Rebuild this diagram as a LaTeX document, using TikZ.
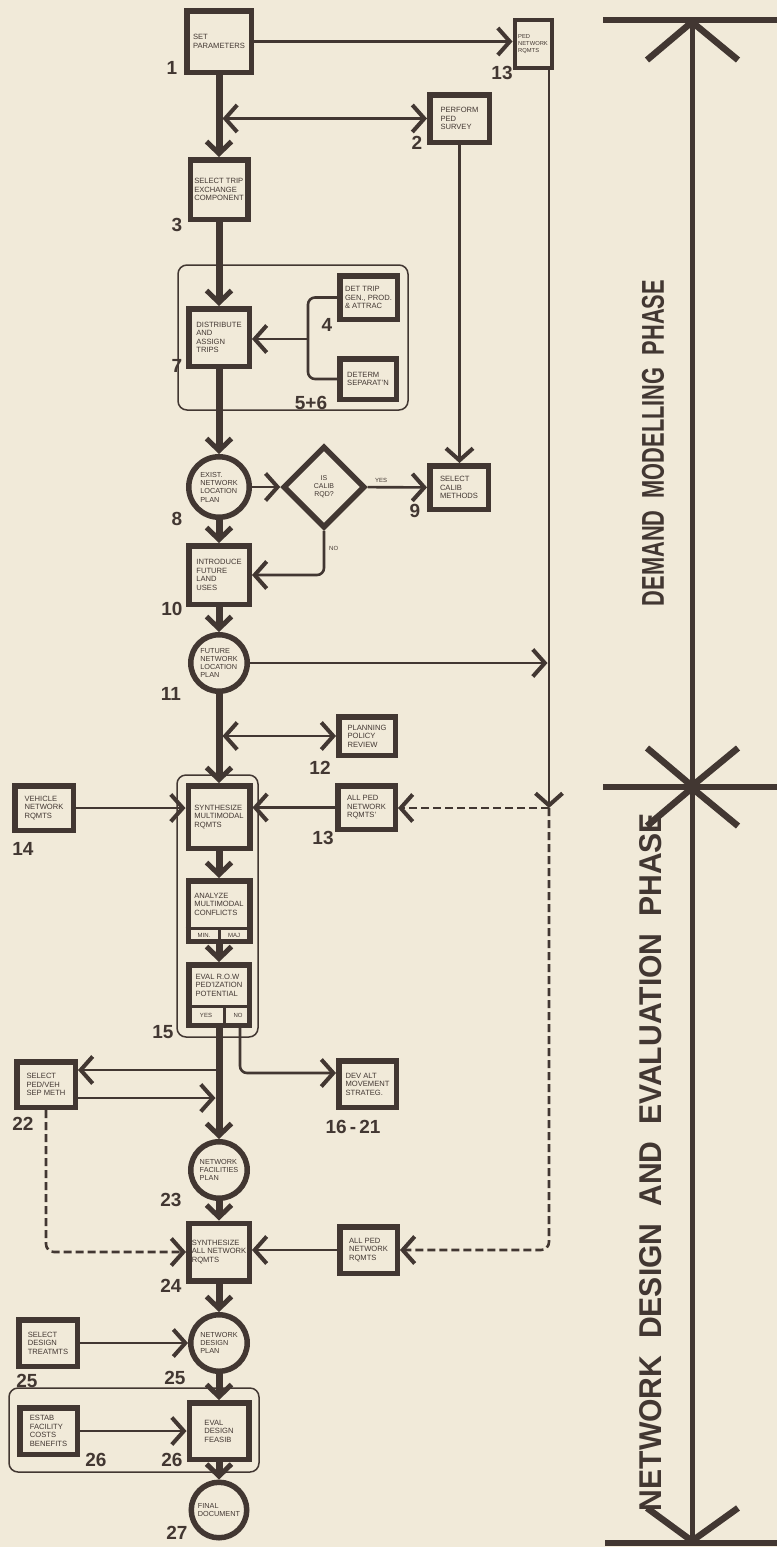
\documentclass[tikz,border=0pt]{standalone}
\usepackage{fontspec}
\setmainfont{Liberation Sans}
\usetikzlibrary{arrows.meta,shapes.geometric}
\definecolor{paper}{RGB}{241,234,217}
\definecolor{ink}{RGB}{66,55,50}
\tikzset{
  MB/.tip={Straight Barb[length=12pt,width=25pt,line width=5pt]},
  TB/.tip={Straight Barb[length=12pt,width=27pt,line width=4pt]},
  box/.style={rectangle, draw=ink, line width=5.5pt, fill=paper, inner sep=0pt, align=left, text=ink, font=\fontsize{7.6}{8.5}\selectfont},
  circ/.style={circle, draw=ink, line width=5.5pt, fill=paper, inner sep=0pt, align=left, text=ink, font=\fontsize{7.3}{8.3}\selectfont},
  txt/.style={inner sep=0pt, align=left, text=ink, font=\fontsize{7.6}{8.5}\selectfont},
  small/.style={inner sep=0pt, text=ink, font=\fontsize{6}{7}\selectfont},
  num/.style={inner sep=0pt, text=ink, font=\fontsize{19}{19}\selectfont\bfseries},
  flow/.style={draw=ink, line width=7pt, -{MB}},
  conn/.style={draw=ink, line width=2.6pt},
  dashconn/.style={draw=ink, line width=2.6pt, dash pattern=on 8pt off 4pt},
  grp/.style={draw=ink, line width=1.5pt, rounded corners=9pt},
  bar/.style={draw=ink, line width=6pt},
  phase/.style={inner sep=0pt, text=ink, rotate=90},
}
\begin{document}
\begin{tikzpicture}[x=1pt,y=-1pt]
\fill[paper] (0,0) rectangle (777,1547);
\useasboundingbox (0,0) rectangle (777,1547);

% groups
\draw[grp] (178,265) rectangle (408,410);
\draw[grp] (177,775) rectangle (258,1037);
\draw[grp] (9,1388) rectangle (259,1472);

% nodes
\node[box, minimum width=64.5pt, minimum height=61.5pt] (n1) at (219,41.5) {SET\\PARAMETERS};
\node[box, line width=4pt, minimum width=37pt, minimum height=48pt, font=\fontsize{5.8}{7}\selectfont] (n13a) at (533,44) {PED\\NETWORK\\RQMTS};
\node[box, minimum width=59.5pt, minimum height=47.5pt] (n2) at (459.5,118.5) {PERFORM\\PED\\SURVEY};
\node[box, minimum width=57.5pt, minimum height=59.5pt] (n3) at (219,189.5) {SELECT TRIP\\EXCHANGE\\COMPONENT};
\node[box, minimum width=60.5pt, minimum height=57.5pt] (n7) at (219,337.5) {DISTRIBUTE\\AND\\ASSIGN\\TRIPS};
\node[box, minimum width=57.5pt, minimum height=43.5pt] (n4) at (368.5,297.5) {DET TRIP\\GEN., PROD.\\\& ATTRAC};
\node[box, minimum width=56.5pt, minimum height=40.5pt] (n56) at (368,379) {DETERM\\SEPARAT'N};
\node[circ, minimum size=60.5pt] (n8) at (219,487) {EXIST.\\NETWORK\\LOCATION\\PLAN};
\node[diamond, draw=ink, line width=5.5pt, fill=paper, inner sep=0pt, minimum width=82pt, minimum height=82pt, align=center, text=ink, font=\fontsize{7}{8.2}\selectfont] (nd) at (324,487) {IS\\CALIB\\RQD?};
\node[box, minimum width=58.5pt, minimum height=43.5pt] (n9) at (459,487.5) {SELECT\\CALIB\\METHODS};
\node[box, minimum width=60.5pt, minimum height=58.5pt] (n10) at (219,575) {INTRODUCE\\FUTURE\\LAND\\USES};
\node[circ, minimum size=56.5pt] (n11) at (219,663) {FUTURE\\NETWORK\\LOCATION\\PLAN};
\node[box, minimum width=56.5pt, minimum height=38.5pt] (n12) at (367,736) {PLANNING\\POLICY\\REVIEW};
\node[box, minimum width=58.5pt, minimum height=44.5pt] (n14) at (44,808) {VEHICLE\\NETWORK\\RQMTS};
\node[box, minimum width=61.5pt, minimum height=62.5pt] (nsyn) at (219,817) {SYNTHESIZE\\MULTIMODAL\\RQMTS};
\node[box, minimum width=57.5pt, minimum height=43.5pt] (n13b) at (366.5,807.5) {ALL PED\\NETWORK\\RQMTS'};
\node[box, minimum width=61.5pt, minimum height=60.5pt] (nana) at (219,911) {};
\node[txt] (tana) at ([yshift=7pt]nana.center) {ANALYZE\\MULTIMODAL\\CONFLICTS};
\draw[ink, line width=3pt] ([yshift=-17pt]nana.west) -- ([yshift=-17pt]nana.east);
\draw[ink, line width=3pt] ([yshift=-17pt]nana.center) -- (nana.south);
\node[small] (tmin) at ([xshift=-15pt,yshift=-24pt]nana.center) {MIN.};
\node[small] (tmaj) at ([xshift=15pt,yshift=-24pt]nana.center) {MAJ};
\node[box, minimum width=60.5pt, minimum height=60.5pt] (neval) at (219,995) {};
\node[txt] (teval) at ([yshift=10pt]neval.center) {EVAL R.O.W\\PED'IZATION\\POTENTIAL};
\draw[ink, line width=3pt] ([yshift=-11pt]neval.west) -- ([yshift=-11pt]neval.east);
\draw[ink, line width=3pt] ([xshift=5pt,yshift=-11pt]neval.center) -- ([xshift=5pt]neval.south);
\node[small] (tyes) at ([xshift=-13pt,yshift=-20.5pt]neval.center) {YES};
\node[small] (tno) at ([xshift=19pt,yshift=-20.5pt]neval.center) {NO};
\node[box, minimum width=57.5pt, minimum height=46.5pt] (ndev) at (367.5,1084) {DEV ALT\\MOVEMENT\\STRATEG.};
\node[box, minimum width=58.5pt, minimum height=45.5pt] (n22) at (46,1084.5) {SELECT\\PED/VEH\\SEP METH};
\node[circ, minimum size=56.5pt] (n23) at (219,1170) {NETWORK\\FACILITIES\\PLAN};
\node[box, minimum width=60.5pt, minimum height=57.5pt] (nsan) at (219,1252) {SYNTHESIZE\\ALL NETWORK\\RQMTS};
\node[box, minimum width=57.5pt, minimum height=46.5pt] (nap2) at (368.5,1250) {ALL PED\\NETWORK\\RQMTS};
\node[circ, minimum size=56.5pt] (n25c) at (219,1343) {NETWORK\\DESIGN\\PLAN};
\node[box, minimum width=58.5pt, minimum height=46.5pt] (n25b) at (48,1343) {SELECT\\DESIGN\\TREATMTS};
\node[box, minimum width=57.5pt, minimum height=46.5pt] (n26a) at (48.5,1431) {ESTAB\\FACILITY\\COSTS\\BENEFITS};
\node[box, minimum width=59.5pt, minimum height=56.5pt] (n26) at (219,1431) {EVAL\\DESIGN\\FEASIB};
\node[circ, minimum size=55.5pt] (n27) at (219,1510) {FINAL\\DOCUMENT};

% connectors
\draw[flow] (n1) -- (n3);
\coordinate (j2) at (222.5,118.5);
\draw[conn, {TB}-{TB}] (j2) -- (n2);
\draw[conn, -{TB}] (n1.east) -- (n1.east -| n13a.west);
\coordinate (v) at (549,808);
\draw[conn, -{TB}] (v |- n13a.south) -- (v);
\draw[dashconn, -{TB}] (v) -- (v -| n13b.east);
\draw[dashconn, -{TB}, rounded corners=8pt] (v) |- (nap2.east);
\draw[conn, -{TB}] (n2.south) -- (n2.south |- n9.north);
\draw[flow] (n3) -- (n7);
\coordinate (k4) at (308,339);
\draw[conn, rounded corners=7pt] (n4.west) -| (k4) |- (n56.west);
\draw[conn, -{TB}] (k4) -- (k4 -| n7.east);
\draw[flow] (n7) -- (n8);
\draw[conn, -{TB}] (n8) -- (nd);
\draw[conn, -{TB}] (nd) -- (n9);
\node[small] (lyes) at (381,480) {YES};
\draw[conn, -{TB}, rounded corners=7pt] (nd.south) |- (n10.east);
\node[small, anchor=west] (lno) at (329,548) {NO};
\draw[flow] (n8) -- (n10);
\draw[flow] (n10) -- (n11);
\coordinate (v11) at (547.5,663);
\draw[conn, -{TB}] (n11) -- (v11);
\draw[flow] (n11) -- (nsyn);
\coordinate (j12) at (222.5,736);
\draw[conn, {TB}-{TB}] (j12) -- (n12);
\draw[conn, -{TB}] (n14.east) -- (n14.east -| nsyn.west);
\draw[conn, -{TB}] (n13b.west) -- (n13b.west -| nsyn.east);
\draw[flow] (nsyn) -- (nana);
\draw[flow] (nana) -- (neval);
\draw[flow] (neval) -- (n23);
\coordinate (jno) at ([xshift=21pt]neval.south);
\coordinate (jdev) at ([yshift=11pt]ndev.west);
\draw[conn, -{TB}, rounded corners=7pt] (jno) |- (jdev);
\coordinate (j22a) at (219,1070);
\draw[conn, -{TB}] (j22a) -- (j22a -| n22.east);
\coordinate (j22b) at (215.5,1098);
\draw[conn, -{TB}] (j22b -| n22.east) -- (j22b);
\draw[dashconn, -{TB}, rounded corners=8pt] (n22.south) |- (nsan.west);
\draw[flow] (n23) -- (nsan);
\draw[conn, -{TB}] (nap2) -- (nap2 -| nsan.east);
\draw[flow] (nsan) -- (n25c);
\draw[conn, -{TB}] (n25b) -- (n25c);
\draw[flow] (n25c) -- (n26);
\draw[conn, -{TB}] (n26a) -- (n26);
\draw[flow] (n26) -- (n27);

% number labels
\node[num] (l1) at (172,68) {1};
\node[num] (l13a) at (502,73) {13};
\node[num] (l2) at (417,143) {2};
\node[num] (l3) at (177,225) {3};
\node[num] (l4) at (327,325) {4};
\node[num] (l56) at (311,403) {5+6};
\node[num] (l7) at (177,366) {7};
\node[num] (l8) at (177,519) {8};
\node[num] (l9) at (415,511) {9};
\node[num] (l10) at (172,609) {10};
\node[num] (l11) at (171,694) {11};
\node[num] (l12) at (320,768) {12};
\node[num] (l14) at (23,849) {14};
\node[num] (l13b) at (323,838) {13};
\node[num] (l15) at (163,1032) {15};
\node[num] (l22) at (23,1124) {22};
\node[num] (l1621) at (353,1127) {16\,-\,21};
\node[num] (l23) at (171,1200) {23};
\node[num] (l24) at (171,1286) {24};
\node[num] (l25c) at (175,1378) {25};
\node[num] (l25b) at (27,1381) {25};
\node[num] (l26a) at (96,1460) {26};
\node[num] (l26) at (172,1460) {26};
\node[num] (l27) at (177,1533) {27};

% phase bracket
\draw[bar] (603,20) -- (777,20);
\draw[bar] (603,787) -- (777,787);
\draw[bar] (605,1543) -- (777,1543);
\draw[ink, line width=5pt] (692,20) -- (692,1543);
\draw[ink, line width=6.5pt] (647,60) -- (692,22) -- (738,60);
\draw[ink, line width=6.5pt] (647,748) -- (692,786) -- (738,748);
\draw[ink, line width=6.5pt] (647,826) -- (692,788) -- (738,826);
\draw[ink, line width=6.5pt] (647,1508) -- (692,1541) -- (738,1508);
\node[phase] (ph1) at (653,443) {\resizebox{326pt}{22pt}{\bfseries DEMAND\ \ MODELLING\ \ PHASE}};
\node[phase] (ph2) at (651,1162) {\resizebox{698pt}{22pt}{\bfseries NETWORK\ \ DESIGN\ \ AND\ \ EVALUATION\ \ PHASE}};
\end{tikzpicture}
\end{document}
